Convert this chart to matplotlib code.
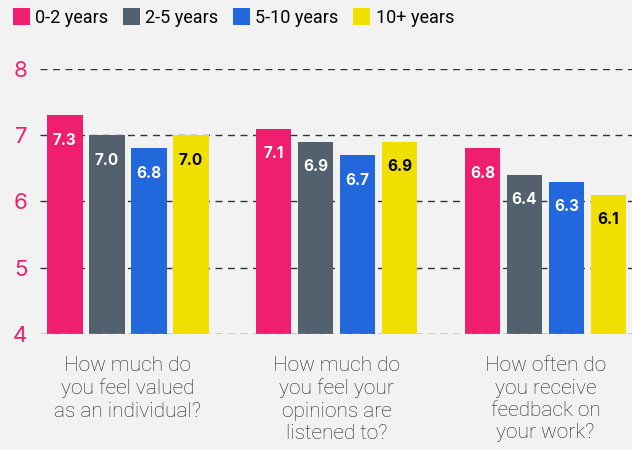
import numpy as np
import matplotlib
matplotlib.use("Agg")
import matplotlib.pyplot as plt
from matplotlib.patches import Patch

# survey answers by length of service
questions = ["How much do\nyou feel valued\nas an individual?",
             "How much do\nyou feel your\nopinions are\nlistened to?",
             "How often do\nyou receive\nfeedback on\nyour work?"]
groups = ["0-2 years", "2-5 years", "5-10 years", "10+ years"]
scores = {
    "0-2 years": [7.3, 7.1, 6.8],
    "2-5 years": [7.0, 6.9, 6.4],
    "5-10 years": [6.8, 6.7, 6.3],
    "10+ years": [7.0, 6.9, 6.1],
}
yticks = [4, 5, 6, 7, 8]

colors = ["#f01e6f", "#53606d", "#2267dc", "#f1df00"]
text_colors = ["white", "white", "white", "black"]
bg = "#f2f2f2"

plt.rcParams['font.family'] = ['Inter', 'DejaVu Sans']

fig = plt.figure(figsize=(6.32, 4.5), dpi=100, facecolor=bg)
ax = fig.add_axes([40/632, 0.2578, 1 - 40/632, 0.8467 - 0.2578])
ax.set_facecolor(bg)

x = np.arange(len(questions))
width = 0.172
step = 0.201
offsets = (np.arange(len(groups)) - 1.5) * step

for i, g in enumerate(groups):
    vals = scores[g]
    bars = ax.bar(x + offsets[i], np.array(vals) - 4, width, bottom=4,
                  color=colors[i], zorder=2)
    for b, v in zip(bars, vals):
        xc = b.get_x() + b.get_width() / 2
        ax.annotate("%.1f" % v, (xc, v), xytext=(0, -18), textcoords="offset points",
                    ha="center", va="center", fontsize=11, fontweight="bold",
                    color=text_colors[i], zorder=3)
        # light baseline showing through the bar foot
        ax.plot([b.get_x(), b.get_x() + b.get_width()], [4, 4], color="#c8c8c8",
                lw=1, dashes=(5, 4), zorder=2.5)

# dashed guides
for yv in yticks:
    ax.axhline(yv, color="#333333", lw=1, dashes=(5, 4), zorder=1)

ax.set_ylim(4, 8)
ax.set_xlim(-0.419, 2.414)
ax.set_yticks(yticks)
ax.set_yticklabels([str(t) for t in yticks], color="#f01e6f", fontsize=16)
ax.tick_params(axis="y", length=0, pad=9)
ax.set_xticks(x)
ax.set_xticklabels(questions, fontsize=15, color="#222222", family="Roboto",
                   fontweight="light", linespacing=1.22)
ax.tick_params(axis="x", length=0, pad=16)
for s in ax.spines.values():
    s.set_visible(False)

handles = [Patch(facecolor=c, label=g) for c, g in zip(colors, groups)]
fig.legend(handles=handles, loc="upper left", bbox_to_anchor=(0.0, 1.01), ncol=4,
           frameon=False, prop={"family": "Roboto", "size": 13}, handlelength=0.95,
           handleheight=1.05, handletextpad=0.3, columnspacing=0.8, borderaxespad=0.3)

fig.savefig("out.png", dpi=100, facecolor=bg)
